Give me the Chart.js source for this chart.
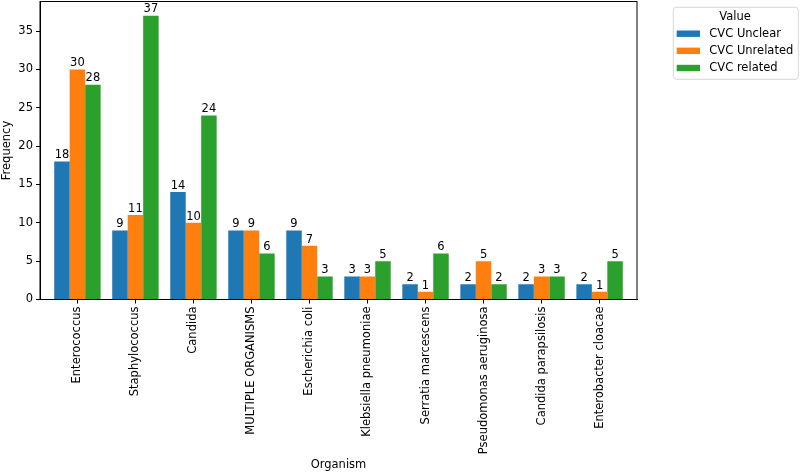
<!DOCTYPE html>
<html>
<head>
<meta charset="utf-8">
<script src="https://cdn.jsdelivr.net/npm/chart.js@4/dist/chart.umd.min.js"></script>
<style>
html,body{margin:0;padding:0;background:#fff;}
#wrap{width:800px;height:472px;position:relative;}
</style>
</head>
<body>
<div id="wrap"><canvas id="c" width="800" height="472"></canvas></div>
<script>
const categories = ["Enterococcus","Staphylococcus","Candida","MULTIPLE ORGANISMS","Escherichia coli","Klebsiella pneumoniae","Serratia marcescens","Pseudomonas aeruginosa","Candida parapsilosis","Enterobacter cloacae"];
const unclear   = [18, 9, 14, 9, 9, 3, 2, 2, 2, 2];
const unrelated = [30, 11, 10, 9, 7, 3, 1, 5, 3, 1];
const related   = [28, 37, 24, 6, 3, 5, 6, 2, 3, 5];
const seriesNames = ["CVC Unclear","CVC Unrelated","CVC related"];
const seriesColors = ["#1f77b4","#ff7f0e","#2ca02c"];
const yTicks = [0,5,10,15,20,25,30,35];

const FONT = "'DejaVu Sans', sans-serif";
const FS = 11.5;

function pts(arr){ return arr.map((v,i)=>({x:i,y:v})); }

const frame = {
  id:'frame',
  afterDraw(chart){
    const {ctx, chartArea:a} = chart;
    ctx.save();
    ctx.strokeStyle = '#000'; ctx.lineWidth = 1;
    ctx.strokeRect(a.left, a.top, a.right-a.left, a.bottom-a.top);
    ctx.restore();
  }
};

const valueLabels = {
  id:'valueLabels',
  afterDatasetsDraw(chart){
    const ctx = chart.ctx;
    ctx.save();
    ctx.font = FS + "px " + FONT;
    ctx.fillStyle = '#000';
    ctx.textAlign = 'center';
    ctx.textBaseline = 'bottom';
    chart.data.datasets.forEach((ds, di) => {
      const meta = chart.getDatasetMeta(di);
      meta.data.forEach((el, i) => {
        ctx.fillText(String(ds.data[i].y), el.x, el.y - 0.5);
      });
    });
    ctx.restore();
  }
};

const customLegend = {
  id:'customLegend',
  afterDraw(chart){
    const ctx = chart.ctx;
    ctx.save();
    const x0 = 673.3, y0 = 7.3, w = 125, h = 72, r = 3;
    ctx.beginPath();
    ctx.moveTo(x0+r, y0);
    ctx.lineTo(x0+w-r, y0); ctx.quadraticCurveTo(x0+w, y0, x0+w, y0+r);
    ctx.lineTo(x0+w, y0+h-r); ctx.quadraticCurveTo(x0+w, y0+h, x0+w-r, y0+h);
    ctx.lineTo(x0+r, y0+h); ctx.quadraticCurveTo(x0, y0+h, x0, y0+h-r);
    ctx.lineTo(x0, y0+r); ctx.quadraticCurveTo(x0, y0, x0+r, y0);
    ctx.closePath();
    ctx.fillStyle = 'rgba(255,255,255,0.8)';
    ctx.fill();
    ctx.strokeStyle = '#d6d6d6'; ctx.lineWidth = 1;
    ctx.stroke();
    ctx.font = FS + "px " + FONT;
    ctx.fillStyle = '#000';
    ctx.textAlign = 'center'; ctx.textBaseline = 'middle';
    ctx.fillText('Value', 735, 17);
    const rows = [33.7, 50.8, 68];
    chart.data.datasets.forEach((ds, i) => {
      ctx.fillStyle = ds.backgroundColor;
      ctx.fillRect(676.7, rows[i]-3.2, 23.3, 6.4);
      ctx.fillStyle = '#000';
      ctx.textAlign = 'left';
      ctx.fillText(ds.label, 709.3, rows[i]);
    });
    ctx.restore();
  }
};

new Chart(document.getElementById('c'), {
  type: 'bar',
  data: {
    datasets: [
      {label: seriesNames[0], data: pts(unclear),   backgroundColor: seriesColors[0]},
      {label: seriesNames[1], data: pts(unrelated), backgroundColor: seriesColors[1]},
      {label: seriesNames[2], data: pts(related),   backgroundColor: seriesColors[2]}
    ]
  },
  plugins: [frame, valueLabels, customLegend],
  options: {
    responsive: false,
    animation: false,
    devicePixelRatio: 1,
    layout: {padding: {left: 0, top: 1.5, right: 163, bottom: 0}},
    datasets: {bar: {categoryPercentage: 0.8, barPercentage: 1.0, borderWidth: 0}},
    plugins: {legend: {display: false}, tooltip: {enabled: false}},
    scales: {
      x: {
        type: 'linear',
        min: -0.645, max: 9.645,
        offset: false,
        afterBuildTicks(scale){ scale.ticks = categories.map((_, i) => ({value: i})); },
        afterFit(scale){ scale.height = 172.5; scale.paddingLeft = 0; scale.paddingRight = 0; scale.paddingTop = 0; scale.paddingBottom = 0; },
        ticks: {
          autoSkip: false, maxRotation: 90, minRotation: 90,
          color: '#000', font: {family: FONT, size: FS}, padding: 3,
          callback: (v) => categories[v] !== undefined ? categories[v] : ''
        },
        grid: {display: true, offset: false, drawOnChartArea: false, drawTicks: true, tickLength: 4, color: '#000'},
        border: {display: true, color: '#000'},
        title: {display: true, text: 'Organism', color: '#000', font: {family: FONT, size: FS}, padding: {top: 0, bottom: 0}}
      },
      y: {
        min: 0, max: 38.85,
        afterBuildTicks(scale){ scale.ticks = yTicks.map(v => ({value: v})); },
        afterFit(scale){ scale.width = 40; scale.paddingTop = 0; scale.paddingBottom = 0; scale.paddingLeft = 0; scale.paddingRight = 0; },
        ticks: {color: '#000', font: {family: FONT, size: FS}, padding: 3},
        grid: {display: true, drawOnChartArea: false, drawTicks: true, tickLength: 4, color: '#000'},
        border: {display: true, color: '#000'},
        title: {display: true, text: 'Frequency', color: '#000', font: {family: FONT, size: FS}, padding: {top: 0, bottom: 3}}
      }
    }
  }
});
</script>
</body>
</html>
